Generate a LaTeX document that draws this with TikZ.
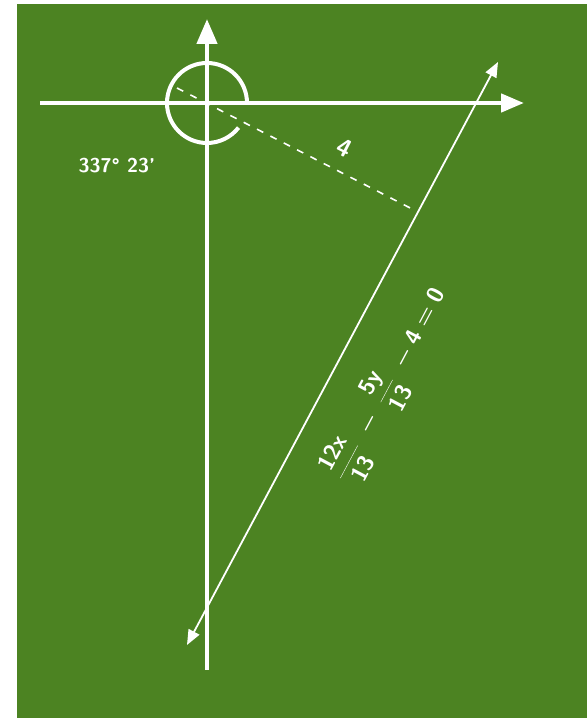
\documentclass[tikz,border=0pt]{standalone}
\usepackage{fix-cm}
\usetikzlibrary{arrows.meta}
\definecolor{board}{RGB}{76,131,34}
\tikzset{
  axis/.style={white, line width=4.5pt},
  slant/.style={white, line width=1.8pt},
  tag/.style={white, font=\sffamily\bfseries\fontsize{20}{20}\selectfont},
}
\begin{document}
\begin{tikzpicture}[x=1pt,y=1pt]
\useasboundingbox (0,0) rectangle (587,718);
\fill[board] (17,0) rectangle (587,714);

% axes
\coordinate (O) at (207,615);
\coordinate (xl) at (40,615);
\coordinate (xr) at (524,615);
\coordinate (yt) at (207,699);
\coordinate (yb) at (207,48);
\draw[axis,-{Triangle[length=23pt,width=18pt]}] (xl) -- (xr);
\draw[axis,-{Triangle[length=25pt,width=20pt]}] (yb) -- (yt);

% angle circle (open at lower right)
\draw[white, line width=4pt] (O) ++(40,0) arc (0:322:40);

% the line and the normal to it
\coordinate (A) at (187,73);
\coordinate (B) at (498,656);
\coordinate (D) at (177,630);
\coordinate (F) at (416,507);
\draw[slant,{Triangle[length=15pt,width=12pt]}-{Triangle[length=15pt,width=12pt]}] (A) -- (B);
\draw[white, line width=1.6pt, dash pattern=on 7pt off 8pt] (D) -- (F);

% labels
\node[tag] (ang) at (117,552) {337\textdegree\ 23'};
\node[tag, rotate=-27, font=\sffamily\bfseries\fontsize{25}{25}\selectfont] (four) at (345,570) {4};
\node[white, rotate=62, font=\sffamily\fontsize{23}{23}\selectfont\boldmath] (eqn) at (388,334)
  {$\displaystyle\frac{\mathsf{12x}}{\mathsf{13}}\ -\ \frac{\mathsf{5y}}{\mathsf{13}}\ -\mathsf{4} = \mathsf{0}$};
\end{tikzpicture}
\end{document}
